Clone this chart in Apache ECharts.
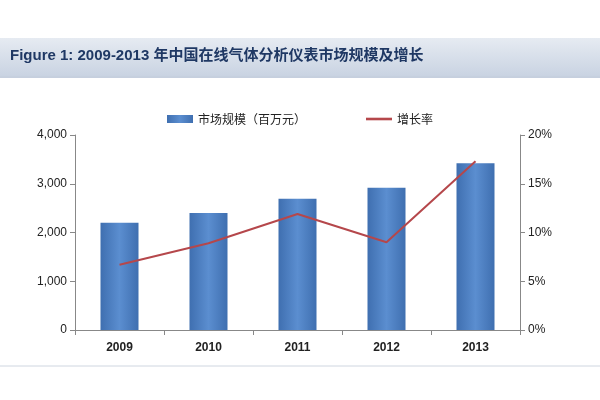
<!DOCTYPE html>
<html><head><meta charset="utf-8">
<script src="https://cdn.jsdelivr.net/npm/echarts@6/dist/echarts.min.js"></script>
<style>html,body{margin:0;padding:0;background:#fff}#c{width:600px;height:400px}</style>
</head><body><div id="c"></div>
<script>
const categories = ['2009','2010','2011','2012','2013'];
const marketSize = [2200, 2400, 2690, 2920, 3420];
const growthRate = [6.7, 8.9, 11.9, 9.0, 17.3];
const leftTicks = [0,1000,2000,3000,4000];
const chart = echarts.init(document.getElementById('c'));
chart.setOption({
  backgroundColor:'#fff',
  graphic:[
    {type:'rect',shape:{x:0,y:38,width:600,height:38},style:{fill:new echarts.graphic.LinearGradient(0,0,0,1,[{offset:0,color:'#e6ebf2'},{offset:1,color:'#c9d3e2'}])},z:-1},
    {type:'line',shape:{x1:0,y1:77,x2:600,y2:77},style:{stroke:'#8da0bd',lineWidth:1}},
    {type:'line',shape:{x1:0,y1:366,x2:600,y2:366},style:{stroke:'#cfd6e0',lineWidth:1}},
    {type:'text',left:10,top:48,style:{text:'Figure 1: 2009-2013 年中国在线气体分析仪表市场规模及增长',font:'bold 15px "Liberation Sans","Noto Sans CJK SC"',fill:'#1f3864'}}
  ],
  legend:{top:108,left:'center',itemGap:60,textStyle:{fontSize:12,color:'#222',fontFamily:'"Noto Sans CJK SC"'},
    data:[{name:'市场规模（百万元）',icon:'rect'},{name:'增长率',icon:'path://M0,0H20V2H0Z'}],itemWidth:26,itemHeight:8},
  grid:{left:75,right:80,top:135,bottom:70},
  xAxis:{type:'category',data:categories,axisLine:{lineStyle:{color:'#888'}},axisTick:{show:true,alignWithLabel:false,lineStyle:{color:'#888'}},
    axisLabel:{color:'#222',fontSize:12,fontWeight:'bold',margin:12}},
  yAxis:[
    {type:'value',min:0,max:4000,interval:1000,splitLine:{show:false},axisLine:{show:true,lineStyle:{color:'#888'}},axisTick:{show:true},
      axisLabel:{color:'#222',fontSize:12,formatter:v=>v.toLocaleString('en-US')}},
    {type:'value',min:0,max:20,interval:5,splitLine:{show:false},axisLine:{show:true,lineStyle:{color:'#888'}},axisTick:{show:true},
      axisLabel:{color:'#222',fontSize:12,formatter:'{value}%'}}
  ],
  series:[
    {name:'市场规模（百万元）',type:'bar',data:marketSize,barWidth:38,
      itemStyle:{color:new echarts.graphic.LinearGradient(0,0,1,0,[{offset:0,color:'#3f6fb0'},{offset:0.5,color:'#5b8ed0'},{offset:1,color:'#3f6fb0'}])}},
    {name:'增长率',type:'line',yAxisIndex:1,data:growthRate,symbol:'none',lineStyle:{color:'#b5474b',width:2},itemStyle:{color:'#b5474b'}}
  ]
});
</script></body></html>
